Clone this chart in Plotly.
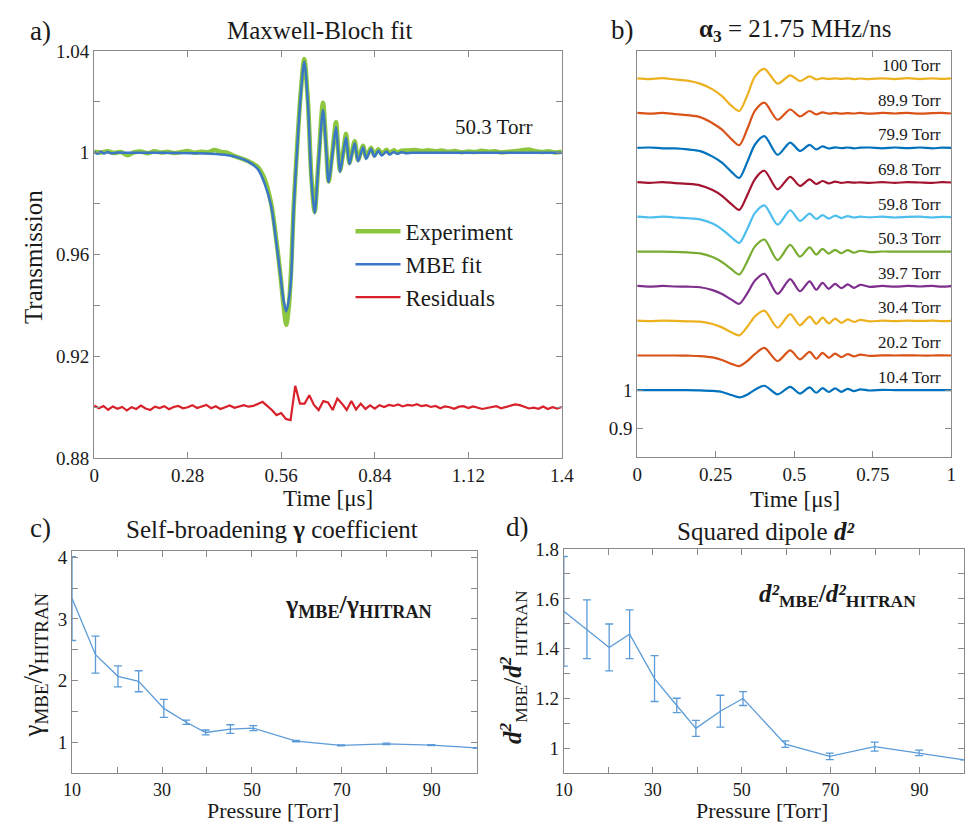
import plotly.graph_objects as go

# ---------------- DATA ----------------
# Panel a: Maxwell-Bloch fit at 50.3 Torr (time in us, transmission)
T_FIT = [0.00, 0.01, 0.02, 0.03, 0.04, 0.05, 0.07, 0.10, 0.20, 0.30,
         0.35, 0.40, 0.43, 0.46, 0.49, 0.51, 0.53, 0.546, 0.558, 0.567,
         0.575, 0.583, 0.590, 0.597, 0.607, 0.618, 0.629, 0.640, 0.650, 0.660,
         0.672, 0.685, 0.694, 0.702, 0.713, 0.724, 0.730, 0.736, 0.745, 0.754,
         0.764, 0.772, 0.780, 0.790, 0.805, 0.814, 0.829, 0.839, 0.851, 0.861,
         0.875, 0.884, 0.897, 0.907, 0.920, 0.935, 0.950, 1.00, 1.10, 1.20,
         1.30, 1.40]
MBE_FIT = [1.0004, 0.9996, 1.0004, 0.9997, 1.0003, 0.9998, 1.0001, 1.0000, 1.0000, 0.9998,
           0.9996, 0.9990, 0.9982, 0.9966, 0.9936, 0.9880, 0.9790, 0.9642, 0.9515, 0.9420,
           0.9377, 0.9426, 0.9515, 0.9770, 1.0000, 1.0220, 1.0359, 1.0190, 0.9900, 0.9763,
           0.9966, 1.0168, 1.0026, 0.9884, 0.9993, 1.0101, 1.0013, 0.9925, 0.9993, 1.0060,
           0.9955, 0.9997, 1.0038, 0.9967, 1.0022, 0.9976, 1.0015, 0.9985, 1.0008, 0.9989,
           1.0005, 0.9993, 1.0003, 0.9996, 1.0002, 0.9998, 1.0000, 1.0000, 1.0000, 1.0000,
           1.0000, 1.0000]

T_EXP = ([round(0.02 * i, 3) for i in range(22)] +
         [0.44, 0.46, 0.49, 0.51, 0.53, 0.546, 0.558, 0.567, 0.575, 0.583,
          0.590, 0.597, 0.607, 0.618, 0.629, 0.640, 0.650, 0.660, 0.672, 0.685,
          0.694, 0.702, 0.713, 0.724, 0.730, 0.736, 0.745, 0.754, 0.764, 0.772,
          0.780, 0.790, 0.805, 0.814, 0.829, 0.839, 0.851, 0.861, 0.875, 0.884,
          0.897, 0.907, 0.920] +
         [round(0.94 + 0.02 * i, 3) for i in range(24)])
EXPERIMENT = [1.0004, 1.0001, 1.0006, 0.9999, 1.0003, 0.9990, 1.0002, 1.0005, 0.9998, 1.0006,
              1.0001, 1.0004, 0.9999, 1.0003, 1.0007, 1.0000, 1.0004, 1.0002, 1.0011, 1.0003,
              1.0000, 0.9987,
              0.9978, 0.9968, 0.9944, 0.9898, 0.9800, 0.9650, 0.9515, 0.9400, 0.9325, 0.9400,
              0.9550, 0.9780, 1.0010, 1.0230, 1.0368, 1.0200, 0.9910, 0.9768, 0.9975, 1.0197,
              1.0035, 0.9888, 1.0000, 1.0120, 1.0020, 0.9930, 0.9998, 1.0075, 0.9960, 1.0005,
              1.0045, 0.9972, 1.0028, 0.9982, 1.0020, 0.9990, 1.0014, 0.9995, 1.0012, 0.9998,
              1.0010, 1.0001, 1.0008,
              1.0009, 1.0011, 1.0007, 1.0010, 1.0006, 1.0009, 1.0004, 1.0007, 1.0002, 1.0005,
              1.0003, 1.0008, 1.0004, 1.0006, 1.0001, 1.0004, 1.0006, 1.0010, 1.0013, 1.0007,
              1.0003, 1.0006, 1.0001, 1.0004]

# Residuals (units of 1e-3), sampled every 0.014 us, drawn around an offset of 0.9
T_RES = [round(0.014 * i, 3) for i in range(101)]
RESIDUALS_MILLI = [0.8, -0.3, 0.6, -0.9, 0.4, -0.5, 0.2, -1.2, 0.1, -0.6,
                   0.7, -0.4, -1.0, 0.3, -0.2, 0.5, -0.7, 0.2, 0.6, -0.3,
                   0.1, 0.9, -0.2, 0.4, 1.0, -0.3, 0.5, -0.6, 0.2, 0.8,
                   -0.1, 0.4, 0.9, 0.3, 0.6, 1.4,
                   2.2, 0.6, -1.0, -3.0, -2.2, -4.5, -5.0, 8.5, 1.5, 1.5,
                   4.8, 1.0, -1.0, 2.5, 2.0, -1.0, 3.5, 1.5, -1.0, 2.5,
                   -0.8, 1.5, -0.6, 0.8, -0.5, 0.9, 0.2, 1.0,
                   0.6, 1.2, 0.4, 1.0, 0.7, 1.3, 0.5, 0.9, 0.2, 0.6,
                   -0.3, 0.4, 0.1, -0.5, 0.3, 0.5, -0.2, 0.4, 0.0, -0.6,
                   -0.2, 0.3, 0.5, -0.3, 0.2, 0.8, 1.2, 0.9, 0.3, -0.4,
                   -0.1, -0.5, 0.4, -0.6, 0.1, -0.4, 0.2]
RES_OFFSET = 0.9

# Panel b: transmission change (%) vs time for each pressure (alpha3 = 21.75 MHz/ns)
T_B = [0.00, 0.04, 0.08, 0.12, 0.16, 0.20, 0.24, 0.27, 0.30, 0.325,
       0.35, 0.375, 0.405, 0.447, 0.487, 0.518, 0.549, 0.57, 0.59, 0.61,
       0.63, 0.65, 0.67, 0.69, 0.71, 0.74, 0.78, 0.82, 0.86, 0.90,
       0.94, 0.97, 1.00]
PRESSURE_LABELS_B = ["10.4 Torr", "20.2 Torr", "30.4 Torr", "39.7 Torr", "50.3 Torr",
                     "59.8 Torr", "69.8 Torr", "79.9 Torr", "89.9 Torr", "100 Torr"]
DT_10_4 = [0, 0, 0, 0, 0, -0.05, -0.2, -0.5, -1.3, -1.9,
           -1.2, 0.1, 1.15, -1.1, 0.85, -0.9, 0.7, -0.7, 0.5, -0.5,
           0.45, -0.45, 0.35, -0.25, 0.2, -0.1, 0.05, 0, 0, 0,
           0, 0, 0]
DT_20_2 = [0, 0, 0, 0, -0.05, -0.15, -0.5, -1.2, -2.2, -2.8,
           -1.5, 0.4, 2.0, -1.45, 1.35, -1.0, 0.95, -0.85, 0.7, -0.6,
           0.5, -0.45, 0.35, -0.25, 0.25, -0.1, 0.05, 0, 0.05, 0,
           0, 0.05, 0]
DT_30_4 = [0.05, -0.05, 0.05, 0, -0.1, -0.2, -0.8, -1.7, -3.0, -3.8,
           -1.6, 1.2, 2.7, -1.8, 1.8, -1.15, 1.15, -0.75, 0.85, -0.65,
           0.6, -0.5, 0.4, -0.25, 0.25, -0.1, 0.05, -0.05, 0.05, 0,
           0.05, -0.05, 0]
DT_39_7 = [0.1, -0.1, 0.1, -0.05, -0.1, -0.25, -1.0, -2.0, -3.5, -4.6,
           -1.9, 1.5, 3.3, -2.0, 1.9, -1.3, 1.3, -0.9, 0.9, -0.65,
           0.65, -0.5, 0.5, -0.4, 0.4, -0.15, 0.1, -0.1, 0.1, -0.05,
           0.1, -0.1, 0.05]
DT_50_3 = [0, 0, 0, -0.05, -0.2, -0.45, -1.4, -2.7, -4.6, -6.0,
           -2.6, 1.4, 3.2, -2.2, 1.8, -1.3, 1.15, -0.75, 0.75, -0.5,
           0.5, -0.4, 0.4, -0.25, 0.25, -0.1, 0.05, 0, 0, 0,
           0, 0, 0]
DT_59_8 = [0.1, -0.1, 0.1, -0.1, -0.3, -0.6, -1.7, -3.2, -5.3, -6.8,
           -3.2, 1.1, 3.1, -2.0, 1.8, -1.0, 0.9, -0.5, 0.5, -0.4,
           0.4, -0.25, 0.25, -0.1, 0.1, -0.05, 0.1, -0.1, 0.05, 0.1,
           -0.1, 0.05, 0]
DT_69_8 = [0.1, -0.1, 0.1, -0.15, -0.35, -0.75, -2.0, -3.5, -5.7, -7.2,
           -3.4, 0.9, 3.1, -1.8, 1.5, -0.9, 0.8, -0.4, 0.4, -0.25,
           0.25, -0.1, 0.1, -0.05, 0.05, -0.1, 0.1, -0.1, 0.1, 0,
           -0.1, 0.1, 0]
DT_79_9 = [0.0, 0.1, -0.1, -0.15, -0.4, -0.85, -2.3, -3.9, -6.3, -7.9,
           -3.8, 0.9, 3.1, -1.8, 1.4, -0.8, 0.8, -0.4, 0.4, -0.15,
           0.15, -0.05, 0.1, -0.1, 0.05, 0.1, -0.1, 0.1, -0.05, 0.1,
           -0.1, 0.05, 0.0]
DT_89_9 = [0.1, -0.1, 0.1, -0.2, -0.5, -1.0, -2.6, -4.3, -6.8, -8.4,
           -4.2, 0.7, 2.8, -1.7, 1.0, -0.8, 0.6, -0.3, 0.25, -0.1,
           0.1, -0.1, 0.05, -0.05, 0.1, -0.1, 0.1, -0.05, 0.1, -0.1,
           0.05, 0.1, -0.05]
DT_100 = [0.1, -0.1, 0.15, -0.2, -0.5, -1.3, -2.8, -4.6, -7.1, -8.5,
          -4.5, 0.6, 2.6, -1.3, 0.9, -0.6, 0.6, -0.2, 0.15, -0.1,
          0.1, -0.05, 0.1, -0.1, 0.05, -0.1, 0.1, -0.1, 0.15, -0.1,
          0.1, -0.05, 0.1]
DT_B = [DT_10_4, DT_20_2, DT_30_4, DT_39_7, DT_50_3,
        DT_59_8, DT_69_8, DT_79_9, DT_89_9, DT_100]
STACK_STEP = 0.091

# Panels c, d: ratios vs pressure
PRESSURE = [10.0, 15.2, 20.2, 24.8, 30.4, 35.4, 39.7, 45.2, 50.3, 59.8, 69.8, 79.9, 89.9, 100.0]
GAMMA_RATIO = [3.33, 2.42, 2.07, 1.99, 1.55, 1.325, 1.16, 1.215, 1.23, 1.02, 0.95, 0.975, 0.955, 0.91]
GAMMA_ERR = [0.68, 0.30, 0.17, 0.17, 0.145, 0.035, 0.04, 0.07, 0.04, 0.01, 0.008, 0.012, 0.008, 0.006]
D2_RATIO = [1.55, 1.478, 1.405, 1.458, 1.28, 1.172, 1.08, 1.149, 1.20, 1.017, 0.968, 1.007, 0.982, 0.954]
D2_ERR = [0.22, 0.118, 0.094, 0.098, 0.092, 0.029, 0.032, 0.064, 0.028, 0.013, 0.013, 0.018, 0.011, 0.0]

# ---------------- STYLE ----------------
W, H = 977, 832
FONT = "'Liberation Serif', 'Times New Roman', Times, serif"
TXT = "#1a1a1a"
FRAME = "#8a8a8a"
GREEN = "#8cc63f"
BLUE = "#3a77c6"
RED = "#d8212b"
MATLAB = ["#0072BD", "#D95319", "#EDB120", "#7E2F8E", "#77AC30",
          "#4DBEEE", "#A2142F", "#0072BD", "#D95319", "#EDB120"]
CD_BLUE = "#5b9bd8"


def px(x, y):
    return x / W, 1 - y / H


fig = go.Figure()

# Panel a
fig.add_trace(go.Scatter(x=T_EXP, y=EXPERIMENT, mode="lines", name="Experiment",
                         line=dict(color=GREEN, width=4.5, shape="spline", smoothing=0.8),
                         xaxis="x", yaxis="y"))
fig.add_trace(go.Scatter(x=T_FIT, y=MBE_FIT, mode="lines", name="MBE fit",
                         line=dict(color=BLUE, width=2.5, shape="spline", smoothing=0.8),
                         xaxis="x", yaxis="y"))
fig.add_trace(go.Scatter(x=T_RES, y=[RES_OFFSET + r / 1000 for r in RESIDUALS_MILLI],
                         mode="lines", name="Residuals",
                         line=dict(color=RED, width=2.2),
                         xaxis="x", yaxis="y"))

# Panel b
for i, (dev, col) in enumerate(zip(DT_B, MATLAB)):
    base = 1 + STACK_STEP * i
    fig.add_trace(go.Scatter(x=T_B, y=[base + d / 100 for d in dev], mode="lines",
                             showlegend=False,
                             line=dict(color=col, width=2.2, shape="spline", smoothing=0.8),
                             xaxis="x2", yaxis="y2"))

# Panel c
fig.add_trace(go.Scatter(x=PRESSURE, y=GAMMA_RATIO, mode="lines", showlegend=False,
                         line=dict(color=CD_BLUE, width=1.3),
                         error_y=dict(type="data", array=GAMMA_ERR, color=CD_BLUE,
                                      thickness=1.3, width=4),
                         cliponaxis=False, xaxis="x3", yaxis="y3"))
# Panel d
fig.add_trace(go.Scatter(x=PRESSURE, y=D2_RATIO, mode="lines", showlegend=False,
                         line=dict(color=CD_BLUE, width=1.3),
                         error_y=dict(type="data", array=D2_ERR, color=CD_BLUE,
                                      thickness=1.3, width=4),
                         cliponaxis=False, xaxis="x4", yaxis="y4"))


def axis(domain, rng, tickvals, ticktext, anchor, minor_tick0=None, minor_dtick=None, fsize=19):
    d = dict(domain=domain, range=rng, tickvals=tickvals, ticktext=ticktext,
             anchor=anchor, showline=True, linecolor=FRAME, linewidth=1,
             mirror="ticks", ticks="inside", ticklen=6, tickcolor=FRAME,
             showgrid=False, zeroline=False,
             tickfont=dict(family=FONT, size=fsize, color=TXT))
    if minor_dtick is not None:
        d["minor"] = dict(tick0=minor_tick0, dtick=minor_dtick, ticks="inside",
                          ticklen=6, tickcolor=FRAME, showgrid=False)
    return d


ya_vals = [0.88, 0.92, 0.96, 1.00, 1.04]
ya_text = ["0.88", "0.92", "0.96", "1", "1.04"]
xa_vals = [0, 0.28, 0.56, 0.84, 1.12, 1.4]
xa_text = ["0", "0.28", "0.56", "0.84", "1.12", "1.4"]
xb_vals = [0, 0.25, 0.5, 0.75, 1]
xb_text = ["0", "0.25", "0.5", "0.75", "1"]
xcd_vals = [10, 30, 50, 70, 90]
xcd_text = ["10", "30", "50", "70", "90"]
yc_vals = [1, 2, 3, 4]
yc_text = ["1", "2", "3", "4"]
yd_vals = [1.0, 1.2, 1.4, 1.6, 1.8]
yd_text = ["1", "1.2", "1.4", "1.6", "1.8"]

fig.update_layout(
    width=W, height=H, margin=dict(l=0, r=0, t=0, b=0),
    paper_bgcolor="white", plot_bgcolor="white",
    font=dict(family=FONT, color=TXT),
    xaxis=axis([87 / W, 565 / W], [0, 1.4], xa_vals, xa_text, "y"),
    yaxis=axis([1 - 460 / H, 1 - 42 / H], [0.88, 1.04], ya_vals, ya_text, "x", 0.88, 0.02),
    xaxis2=axis([642 / W, 963 / W], [0, 1], xb_vals, xb_text, "y2"),
    yaxis2=axis([1 - 459 / H, 1 - 42 / H], [0.823, 1.892], [0.9, 1.0], ["0.9", "1"], "x2"),
    xaxis3=axis([64.5 / W, 478 / W], [10, 100], xcd_vals, xcd_text, "y3", 10, 10, 18),
    yaxis3=axis([1 - 783 / H, 1 - 555 / H], [0.5, 4.1], yc_vals, yc_text, "x3", 0.5, 0.5),
    xaxis4=axis([567 / W, 976 / W], [10, 100], xcd_vals, xcd_text, "y4", 10, 10, 18),
    yaxis4=axis([1 - 783 / H, 1 - 553 / H], [0.9, 1.8], yd_vals, yd_text, "x4", 0.9, 0.1),
    legend=dict(x=349 / W, y=1 - 205 / H, xanchor="left", yanchor="top",
                bgcolor="rgba(0,0,0,0)", font=dict(family=FONT, size=23, color=TXT),
                tracegroupgap=0, itemwidth=45),
)

ann = []


def text(x, y, s, size, angle=0, xanchor="center", color=TXT):
    xx, yy = px(x, y)
    ann.append(dict(x=xx, y=yy, xref="paper", yref="paper", text=s, showarrow=False,
                    xanchor=xanchor, yanchor="middle", textangle=angle,
                    font=dict(family=FONT, size=size, color=color)))


# panel labels and titles
text(32, 22, "a)", 27)
text(317, 21, "Maxwell-Bloch fit", 25)
text(627, 21, "b)", 27)
text(803, 21, "<b>α<sub>3</sub></b> = 21.75 MHz/ns", 25)
text(32, 531, "c)", 27)
text(269, 533, "Self-broadening <b>γ</b> coefficient", 25)
text(520, 530, "d)", 27)
text(773, 535, "Squared dipole <b><i>d²</i></b>", 25)
# axis titles
text(326, 501, "Time [μs]", 23)
text(803, 502, "Time [μs]", 23)
text(270, 821, "Pressure [Torr]", 22)
text(770, 821, "Pressure [Torr]", 22)
text(25, 253, "Transmission", 25, angle=-90)
text(27, 672, "γ<sub>MBE</sub>/γ<sub>HITRAN</sub>", 27, angle=-90)
text(515, 674, "<b><i>d</i></b><sup><b><i>2</i></b></sup><sub>MBE</sub>/<b><i>d</i></b><sup><b><i>2</i></b></sup><sub>HITRAN</sub>", 25, angle=-90)
# in-plot notes
text(495, 120, "50.3 Torr", 21)
text(357, 611, "<b>γ<sub>MBE</sub>/γ<sub>HITRAN</sub></b>", 26)
text(847, 601, "<b><i>d²</i><sub>MBE</sub>/<i>d²</i><sub>HITRAN</sub></b>", 25)

# panel b pressure labels
for i, lab in enumerate(PRESSURE_LABELS_B):
    ann.append(dict(x=0.975, y=1 + STACK_STEP * i + 0.034, xref="x2", yref="y2",
                    text=lab, showarrow=False, xanchor="right", yanchor="middle",
                    font=dict(family=FONT, size=17, color=TXT)))

fig.update_layout(annotations=ann)
fig.write_html("out.html")
